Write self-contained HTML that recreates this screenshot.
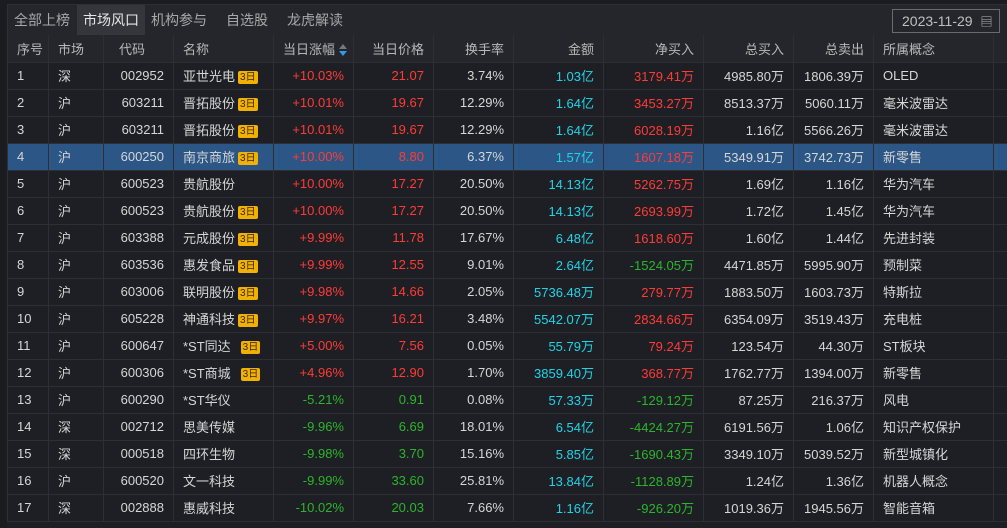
<!DOCTYPE html>
<html><head><meta charset="utf-8"><style>
*{margin:0;padding:0;box-sizing:border-box}
body{width:1007px;height:528px;background:#1b1c20;font-family:"Liberation Sans","Noto Sans CJK SC",sans-serif;font-size:13px;color:#d6d6d6;overflow:hidden;position:relative}
.panel{position:absolute;left:7px;top:4px;width:1000px;height:524px;background:#1e1f24;border-top:1px solid #2e2f34}
.tabs{height:30px;background:#25262b;position:relative;border-left:1px solid #2e2f34}
.tab{position:absolute;top:0;height:30px;line-height:30px;font-size:14px;color:#a8a8a8}
.tab.on{background:#35363c;color:#e6e6e6}
.date{position:absolute;left:884px;top:4px;width:108px;height:24px;border:1px solid #6a6a6a;color:#c0c0c0;font-size:14px;line-height:22px;padding-left:9px}
table{position:absolute;left:0;top:30px;width:1000px;border-collapse:collapse;table-layout:fixed}
td{height:27px;border-right:1px solid #2e2f34;border-bottom:1px solid #2e2f34;padding:0 9px;white-space:nowrap;overflow:hidden}
td:first-child{border-left:1px solid #2e2f34}
tr.h td{height:27px;background:#25262b;color:#b8b8b8}
.r{text-align:right}
.red{color:#ff3b36}.grn{color:#2cb52c}.cy{color:#20d4e8}
tr.sel td{background:#2b5685}
.b{display:inline-block;background:#f2b100;color:#3a2a00;font-size:10px;line-height:13px;padding:0 2px;border-radius:2px;margin-left:3px;vertical-align:1px}
.sort{display:inline-block;width:8px;margin-left:4px;vertical-align:middle}
</style></head><body>
<div class="panel">
<div class="tabs">
<div class="tab" style="left:6px">全部上榜</div>
<div class="tab on" style="left:69px;width:68px;padding-left:6px">市场风口</div>
<div class="tab" style="left:143px">机构参与</div>
<div class="tab" style="left:218px">自选股</div>
<div class="tab" style="left:279px">龙虎解读</div>
<div class="date">2023-11-29 <span style="font-size:12px;margin-left:4px">▤</span></div>
</div>
<table>
<colgroup><col style="width:41px"><col style="width:55px"><col style="width:70px"><col style="width:100px"><col style="width:80px"><col style="width:80px"><col style="width:80px"><col style="width:90px"><col style="width:100px"><col style="width:90px"><col style="width:80px"><col style="width:120px"><col style="width:14px"></colgroup>
<tr class="h"><td>序号</td><td>市场</td><td style="padding-left:15px">代码</td><td>名称</td><td class="r" style="padding-right:6px">当日涨幅<svg class="sort" viewBox="0 0 8 12" height="12"><path d="M4 0L8 5H0z" fill="#777"/><path d="M4 12L8 7H0z" fill="#2a9ee8"/></svg></td><td class="r">当日价格</td><td class="r">换手率</td><td class="r">金额</td><td class="r">净买入</td><td class="r">总买入</td><td class="r">总卖出</td><td>所属概念</td><td></td></tr>
<tr><td>1</td><td>深</td><td class="r">002952</td><td>亚世光电<span class="b">3日</span></td><td class="r red">+10.03%</td><td class="r red">21.07</td><td class="r">3.74%</td><td class="r cy">1.03亿</td><td class="r red">3179.41万</td><td class="r">4985.80万</td><td class="r">1806.39万</td><td>OLED</td><td></td></tr>
<tr><td>2</td><td>沪</td><td class="r">603211</td><td>晋拓股份<span class="b">3日</span></td><td class="r red">+10.01%</td><td class="r red">19.67</td><td class="r">12.29%</td><td class="r cy">1.64亿</td><td class="r red">3453.27万</td><td class="r">8513.37万</td><td class="r">5060.11万</td><td>毫米波雷达</td><td></td></tr>
<tr><td>3</td><td>沪</td><td class="r">603211</td><td>晋拓股份<span class="b">3日</span></td><td class="r red">+10.01%</td><td class="r red">19.67</td><td class="r">12.29%</td><td class="r cy">1.64亿</td><td class="r red">6028.19万</td><td class="r">1.16亿</td><td class="r">5566.26万</td><td>毫米波雷达</td><td></td></tr>
<tr class="sel"><td>4</td><td>沪</td><td class="r">600250</td><td>南京商旅<span class="b">3日</span></td><td class="r red">+10.00%</td><td class="r red">8.80</td><td class="r">6.37%</td><td class="r cy">1.57亿</td><td class="r red">1607.18万</td><td class="r">5349.91万</td><td class="r">3742.73万</td><td>新零售</td><td></td></tr>
<tr><td>5</td><td>沪</td><td class="r">600523</td><td>贵航股份</td><td class="r red">+10.00%</td><td class="r red">17.27</td><td class="r">20.50%</td><td class="r cy">14.13亿</td><td class="r red">5262.75万</td><td class="r">1.69亿</td><td class="r">1.16亿</td><td>华为汽车</td><td></td></tr>
<tr><td>6</td><td>沪</td><td class="r">600523</td><td>贵航股份<span class="b">3日</span></td><td class="r red">+10.00%</td><td class="r red">17.27</td><td class="r">20.50%</td><td class="r cy">14.13亿</td><td class="r red">2693.99万</td><td class="r">1.72亿</td><td class="r">1.45亿</td><td>华为汽车</td><td></td></tr>
<tr><td>7</td><td>沪</td><td class="r">603388</td><td>元成股份<span class="b">3日</span></td><td class="r red">+9.99%</td><td class="r red">11.78</td><td class="r">17.67%</td><td class="r cy">6.48亿</td><td class="r red">1618.60万</td><td class="r">1.60亿</td><td class="r">1.44亿</td><td>先进封装</td><td></td></tr>
<tr><td>8</td><td>沪</td><td class="r">603536</td><td>惠发食品<span class="b">3日</span></td><td class="r red">+9.99%</td><td class="r red">12.55</td><td class="r">9.01%</td><td class="r cy">2.64亿</td><td class="r grn">-1524.05万</td><td class="r">4471.85万</td><td class="r">5995.90万</td><td>预制菜</td><td></td></tr>
<tr><td>9</td><td>沪</td><td class="r">603006</td><td>联明股份<span class="b">3日</span></td><td class="r red">+9.98%</td><td class="r red">14.66</td><td class="r">2.05%</td><td class="r cy">5736.48万</td><td class="r red">279.77万</td><td class="r">1883.50万</td><td class="r">1603.73万</td><td>特斯拉</td><td></td></tr>
<tr><td>10</td><td>沪</td><td class="r">605228</td><td>神通科技<span class="b">3日</span></td><td class="r red">+9.97%</td><td class="r red">16.21</td><td class="r">3.48%</td><td class="r cy">5542.07万</td><td class="r red">2834.66万</td><td class="r">6354.09万</td><td class="r">3519.43万</td><td>充电桩</td><td></td></tr>
<tr><td>11</td><td>沪</td><td class="r">600647</td><td>*ST同达<span class="b" style="margin-left:10px">3日</span></td><td class="r red">+5.00%</td><td class="r red">7.56</td><td class="r">0.05%</td><td class="r cy">55.79万</td><td class="r red">79.24万</td><td class="r">123.54万</td><td class="r">44.30万</td><td>ST板块</td><td></td></tr>
<tr><td>12</td><td>沪</td><td class="r">600306</td><td>*ST商城<span class="b" style="margin-left:10px">3日</span></td><td class="r red">+4.96%</td><td class="r red">12.90</td><td class="r">1.70%</td><td class="r cy">3859.40万</td><td class="r red">368.77万</td><td class="r">1762.77万</td><td class="r">1394.00万</td><td>新零售</td><td></td></tr>
<tr><td>13</td><td>沪</td><td class="r">600290</td><td>*ST华仪</td><td class="r grn">-5.21%</td><td class="r grn">0.91</td><td class="r">0.08%</td><td class="r cy">57.33万</td><td class="r grn">-129.12万</td><td class="r">87.25万</td><td class="r">216.37万</td><td>风电</td><td></td></tr>
<tr><td>14</td><td>深</td><td class="r">002712</td><td>思美传媒</td><td class="r grn">-9.96%</td><td class="r grn">6.69</td><td class="r">18.01%</td><td class="r cy">6.54亿</td><td class="r grn">-4424.27万</td><td class="r">6191.56万</td><td class="r">1.06亿</td><td>知识产权保护</td><td></td></tr>
<tr><td>15</td><td>深</td><td class="r">000518</td><td>四环生物</td><td class="r grn">-9.98%</td><td class="r grn">3.70</td><td class="r">15.16%</td><td class="r cy">5.85亿</td><td class="r grn">-1690.43万</td><td class="r">3349.10万</td><td class="r">5039.52万</td><td>新型城镇化</td><td></td></tr>
<tr><td>16</td><td>沪</td><td class="r">600520</td><td>文一科技</td><td class="r grn">-9.99%</td><td class="r grn">33.60</td><td class="r">25.81%</td><td class="r cy">13.84亿</td><td class="r grn">-1128.89万</td><td class="r">1.24亿</td><td class="r">1.36亿</td><td>机器人概念</td><td></td></tr>
<tr><td>17</td><td>深</td><td class="r">002888</td><td>惠威科技</td><td class="r grn">-10.02%</td><td class="r grn">20.03</td><td class="r">7.66%</td><td class="r cy">1.16亿</td><td class="r grn">-926.20万</td><td class="r">1019.36万</td><td class="r">1945.56万</td><td>智能音箱</td><td></td></tr>
</table>
</div>
</body></html>
